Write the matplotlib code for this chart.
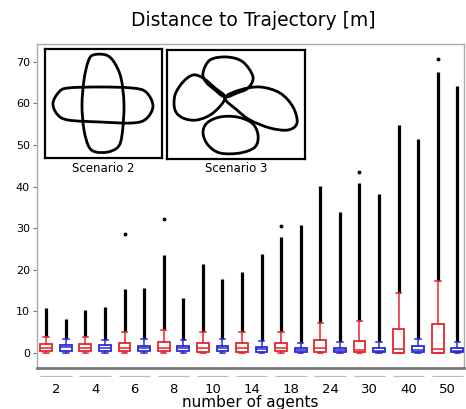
import numpy as np
import matplotlib
matplotlib.use('Agg')
import matplotlib.pyplot as plt
from matplotlib.path import Path
from matplotlib.patches import PathPatch

groups = ['2', '4', '6', '8', '10', '14', '18', '24', '30', '40', '50']

# red series: box stats + the dense black outlier run (whisker top -> max)
red_q1 = [0.4, 0.4, 0.4, 0.4, 0.3, 0.3, 0.4, 0.2, 0.2, 0.1, 0.1]
red_med = [1.2, 1.2, 1.3, 1.3, 1.2, 1.2, 1.1, 1.2, 0.8, 1.0, 0.9]
red_q3 = [2.2, 2.2, 2.4, 2.6, 2.4, 2.4, 2.3, 3.1, 3.0, 5.7, 6.9]
red_whi = [3.9, 3.9, 5.1, 5.5, 5.1, 5.1, 5.1, 7.2, 7.8, 14.4, 17.2]
red_max = [10.8, 10.3, 15.3, 23.6, 21.5, 19.6, 27.8, 40.2, 41.0, 54.8, 67.5]
red_far_idx = [2, 3, 6, 8, 10]
red_far_val = [28.7, 32.3, 30.6, 43.6, 70.6]

# blue series
blue_q1 = [0.6, 0.5, 0.5, 0.4, 0.4, 0.3, 0.3, 0.2, 0.2, 0.2, 0.2]
blue_med = [1.4, 1.3, 1.2, 1.1, 1.1, 0.9, 0.8, 0.7, 0.6, 0.7, 0.6]
blue_q3 = [1.9, 1.9, 1.8, 1.7, 1.6, 1.4, 1.3, 1.3, 1.1, 1.6, 1.1]
blue_whi = [3.3, 3.1, 3.3, 3.1, 3.3, 2.9, 2.4, 2.7, 2.7, 3.3, 2.7]
blue_max = [8.1, 11.1, 15.6, 13.2, 17.7, 23.8, 30.9, 34.0, 38.3, 51.5, 64.1]

yticks = [0, 10, 20, 30, 40, 50, 60, 70]

# inset sketches (control points, figure pixel coords)
sc2_vertical = [(93, 55), (106, 55), (114, 62), (121, 78), (124, 105), (122, 135),
                (118, 147), (108, 152), (96, 152), (89, 147), (84, 130), (82, 105), (84, 80), (88, 62)]
sc2_horizontal = [(68, 88), (100, 87), (132, 88), (146, 92), (153, 106), (146, 119),
                  (132, 123), (100, 122), (68, 120), (57, 114), (53, 103), (59, 92)]
sc3_loops = [
    [(203, 73), (210, 60), (227, 57), (243, 62), (253, 77), (248, 88), (237, 93), (225, 97), (215, 90), (206, 82)],
    [(225, 98), (215, 88), (203, 78), (193, 75), (183, 82), (175, 95), (175, 110), (183, 118), (197, 120), (213, 113)],
    [(225, 98), (240, 90), (260, 87), (280, 93), (293, 107), (297, 123), (288, 130), (270, 128), (250, 120), (237, 110)],
    [(207, 123), (220, 117), (237, 117), (252, 123), (258, 135), (255, 147), (240, 153), (220, 153), (208, 145), (203, 133)],
]

RED = '#e3262d'
BLUE = '#2b2bd6'


def closed_curve(pts):
    # closed Catmull-Rom outline expressed as cubic bezier segments
    p = np.array(pts, dtype=float)
    n = len(p)
    verts = [p[0]]
    codes = [Path.MOVETO]
    for i in range(n):
        p0, p1, p2, p3 = p[i - 1], p[i], p[(i + 1) % n], p[(i + 2) % n]
        verts += [p1 + (p2 - p0) / 6, p2 - (p3 - p1) / 6, p2]
        codes += [Path.CURVE4] * 3
    return Path(verts, codes)


def stats(q1, med, q3, whi):
    return [dict(q1=a, med=b, q3=c, whislo=0.0, whishi=d, fliers=[])
            for a, b, c, d in zip(q1, med, q3, whi)]


W, H = 466, 409
fig = plt.figure(figsize=(W / 100, H / 100), dpi=100)
ax = fig.add_axes([37 / W, 1 - 368 / H, (464 - 37) / W, (368 - 44) / H])

x = np.arange(len(groups))
for pos, st, mx, col in [(x - 0.25, stats(red_q1, red_med, red_q3, red_whi), red_max, RED),
                         (x + 0.25, stats(blue_q1, blue_med, blue_q3, blue_whi), blue_max, BLUE)]:
    whi = [s['whishi'] for s in st]
    ax.vlines(pos, whi, mx, color='black', lw=2.3, zorder=3)
    ax.bxp(st, positions=pos, widths=0.3, showfliers=False, patch_artist=True,
           boxprops=dict(edgecolor=col, facecolor='white', lw=1.3),
           medianprops=dict(color=col, lw=1.1),
           whiskerprops=dict(color=col, lw=1.1),
           capprops=dict(color=col, lw=1.1), capwidths=0.14,
           manage_ticks=False, zorder=4)

ax.plot(x[red_far_idx] - 0.25, red_far_val, 'o', ms=1.8, color='black', zorder=3)

# faint marks under each group
ax.hlines([-5.5] * len(x), x - 0.4, x + 0.4, color='#bbbbbb', lw=0.8, clip_on=False)

ax.set_xlim(-0.485, 10.42)
ax.set_ylim(-3.6, 74.3)
ax.set_yticks(yticks)
ax.set_yticklabels([str(v) for v in yticks], fontsize=8)
ax.tick_params(axis='y', length=3, width=0.8, color='#777777', pad=2)
ax.set_xticks(x)
ax.set_xticklabels(groups, fontsize=9.5)
ax.tick_params(axis='x', length=0, pad=11)
ax.set_xlabel('number of agents', fontsize=11, labelpad=-1)
for s in ['top', 'right', 'left']:
    ax.spines[s].set_color('#aaaaaa')
    ax.spines[s].set_linewidth(1.0)
ax.spines['bottom'].set_color('#777777')
ax.spines['bottom'].set_linewidth(2.0)

fig.text(253.5 / W, 1 - 20 / H, 'Distance to Trajectory [m]', ha='center', va='center', fontsize=13.5)

# insets
for (l, r, t, b), shapes, label in [((45, 162, 49, 158), [sc2_vertical, sc2_horizontal], 'Scenario 2'),
                                    ((167, 305, 50, 159), sc3_loops, 'Scenario 3')]:
    ia = fig.add_axes([l / W, 1 - b / H, (r - l) / W, (b - t) / H])
    ia.set_xlim(l, r)
    ia.set_ylim(b, t)
    ia.set_xticks([])
    ia.set_yticks([])
    for sp in ia.spines.values():
        sp.set_linewidth(1.6)
    for pts in shapes:
        ia.add_patch(PathPatch(closed_curve(pts), fill=False, lw=2.0, ec='black'))
    fig.text((l + r) / 2 / W, 1 - 168 / H, label, ha='center', va='center', fontsize=8.5)

fig.savefig('out.png', dpi=100)
